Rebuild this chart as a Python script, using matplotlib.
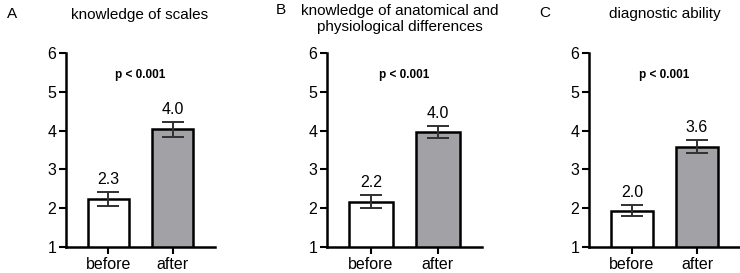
import matplotlib
matplotlib.use("Agg")
import matplotlib.pyplot as plt
import numpy as np

plt.rcParams['font.family'] = ['Liberation Sans', 'DejaVu Sans']

# data
groups = ["before", "after"]
panel_letters = ["A", "B", "C"]
titles = ["knowledge of scales",
          "knowledge of anatomical and\nphysiological differences",
          "diagnostic ability"]
means_a = [2.24, 4.03]
means_b = [2.17, 3.97]
means_c = [1.94, 3.59]
err_a = [0.19, 0.19]
err_b = [0.17, 0.16]
err_c = [0.15, 0.17]
labels_a = ["2.3", "4.0"]
labels_b = ["2.2", "4.0"]
labels_c = ["2.0", "3.6"]
p_text = "p < 0.001"

means = [means_a, means_b, means_c]
errs = [err_a, err_b, err_c]
vlabels = [labels_a, labels_b, labels_c]

W, H = 740, 273
fig = plt.figure(figsize=(W / 100, H / 100), dpi=100)

# axes boxes in pixels: left, right
boxes = [(66, 215), (327, 482), (589, 740)]
top_px, bot_px = 53, 247
letter_pos = [(12, 14), (281, 10), (545, 13)]
title_pos = [(140, 15), (400, 19), (665, 14)]

for i, (l, r) in enumerate(boxes):
    ax = fig.add_axes([l / W, 1 - bot_px / H, (r - l) / W, (bot_px - top_px) / H])
    x = np.arange(len(groups))
    ax.bar(x, means[i], width=0.65, color=["white", "#a2a2a6"],
           edgecolor="black", linewidth=1.8, zorder=2)
    ax.errorbar(x, means[i], yerr=errs[i], fmt="none", ecolor="#303030",
                elinewidth=1.4, capsize=8, capthick=1.4, zorder=3)
    for xi, m, e, lab in zip(x, means[i], errs[i], vlabels[i]):
        ax.text(xi, m + e + 0.12, lab, ha="center", va="bottom", fontsize=11.5)
    ax.text(0.5, 5.43, p_text, ha="center", va="center", fontsize=8.5,
            fontweight="bold")
    ax.set_ylim(1, 6)
    ax.set_xlim(-0.66, 1.66)
    ax.set_yticks([1, 2, 3, 4, 5, 6])
    ax.set_xticks(x)
    ax.set_xticklabels(groups)
    ax.tick_params(axis="both", direction="out", length=5, width=1.5,
                   labelsize=11.5, pad=2)
    for s in ["top", "right"]:
        ax.spines[s].set_visible(False)
    for s in ["left", "bottom"]:
        ax.spines[s].set_linewidth(1.8)

    tx, ty = title_pos[i]
    fig.text(tx / W, 1 - ty / H, titles[i], ha="center", va="center",
             fontsize=11, linespacing=1.2)
    lx, ly = letter_pos[i]
    fig.text(lx / W, 1 - ly / H, panel_letters[i], ha="center",
             va="center", fontsize=11)

fig.savefig("out.png", dpi=100)
